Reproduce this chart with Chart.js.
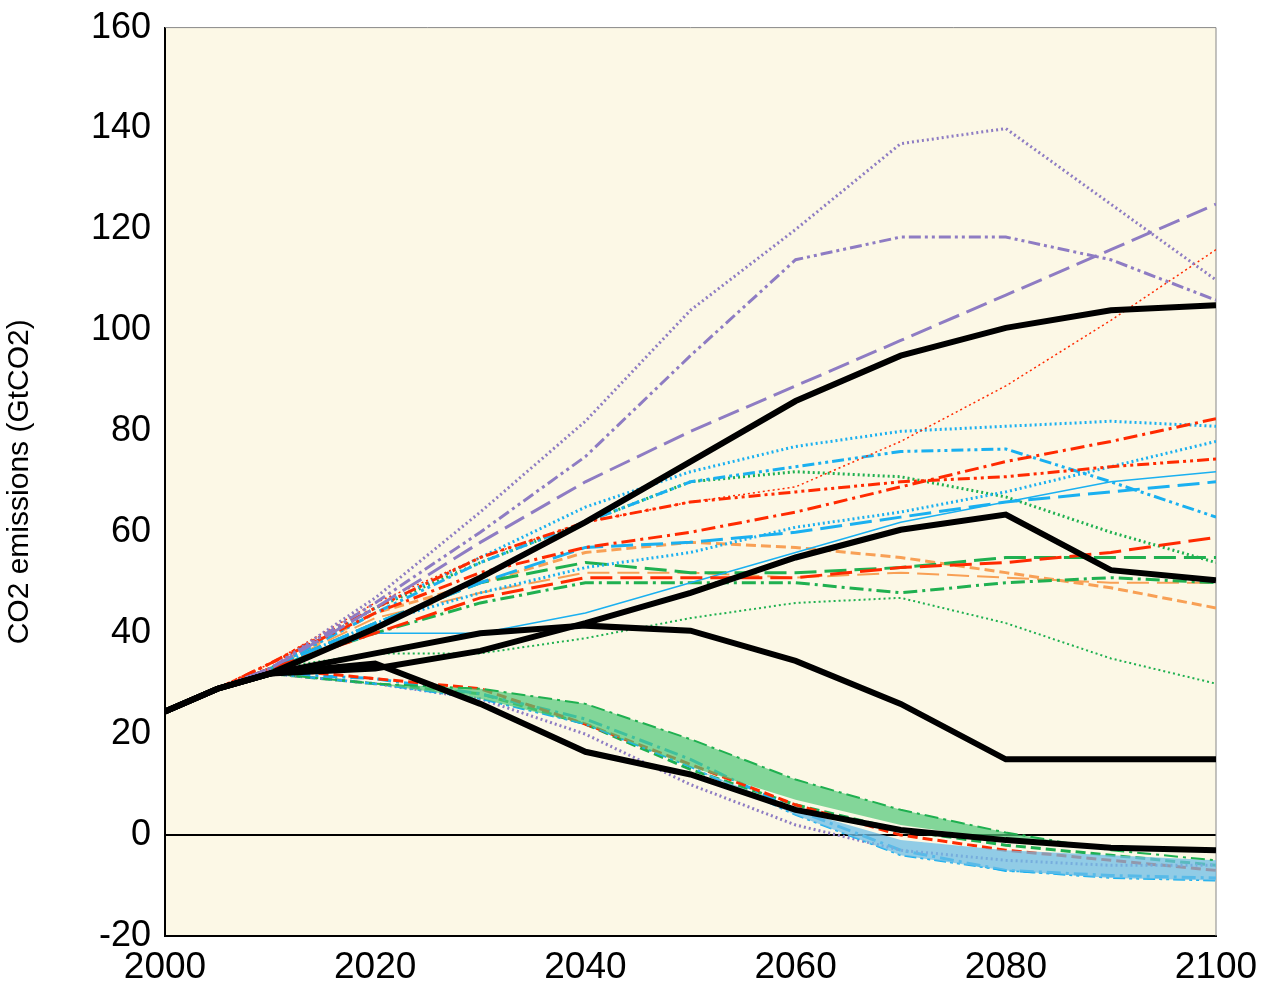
<!DOCTYPE html>
<html><head><meta charset="utf-8">
<script src="https://cdn.jsdelivr.net/npm/chart.js@4/dist/chart.umd.min.js"></script>
<style>body{margin:0;background:#fff}#wrap{width:1266px;height:1004px}</style>
</head><body><div id="wrap"><canvas id="c"></canvas></div>
<script>
// years and values
const years = [2005, 2010, 2020, 2030, 2040, 2050, 2060, 2070, 2080, 2090, 2100];
const yTicks = [-20, 0, 20, 40, 60, 80, 100, 120, 140, 160];
const xTicks = [2000, 2020, 2040, 2060, 2080, 2100];

// black scenarios (start at 2000)
const blackYears = [2000, 2005, 2010, 2020, 2030, 2040, 2050, 2060, 2070, 2080, 2090, 2100];
const blackA = [24.5, 29, 32, 41, 51, 62, 74, 86, 95, 100.5, 104, 105];
const blackB = [24.5, 29, 32, 33, 36.5, 42, 48, 55, 60.5, 63.5, 52.5, 50.5];
const blackC = [24.5, 29, 32, 36, 40, 41.5, 40.5, 34.5, 26, 15, 15, 15];
const blackD = [24.5, 29, 32, 34, 26, 16.5, 12, 5, 1, -1, -2.5, -3];

// coloured scenarios
const purple1 = [29, 33, 47, 64, 82, 104, 120, 137, 140, 125, 110];
const purple2 = [29, 33, 46, 60, 75, 95, 114, 118.5, 118.5, 114, 106];
const purple3 = [29, 33, 45, 58, 70, 80, 89, 98, 107, 116, 125];
const purple4 = [29, 32, 30, 27, 20, 10, 2, -3, -5, -6, -6];
const red1 = [29, 34, 46, 55, 62, 66, 69, 78, 89, 102, 116];
const red2 = [29, 34, 44, 52, 57, 60, 64, 69, 74, 78, 82.5];
const red3 = [29, 34, 45, 55, 62, 66, 68, 70, 71, 73, 74.5];
const red4 = [29, 33, 40, 47, 51, 51, 51, 53, 54, 56, 59];
const red5 = [29, 33, 31, 29, 22, 14, 6, 0, -3, -5, -7];
const blue1 = [29, 33, 45, 55, 65, 72, 77, 80, 81, 82, 81];
const blue2 = [29, 33, 44, 54, 62, 70, 73, 76, 76.5, 70, 63];
const blue3 = [29, 33, 42, 50, 57, 58, 60, 63, 66, 68, 70];
const blue4 = [29, 33, 42, 48, 53, 56, 61, 64, 68, 73, 78];
const blue5 = [29, 33, 40, 40, 44, 50, 56, 62, 66, 70, 72];
const blue6 = [29, 32, 31, 28, 23, 15, 5, -3, -7, -8, -8.5];
const green1 = [29, 33, 45, 54, 62, 70, 72, 71, 67, 60, 54];
const green2 = [29, 33, 42, 50, 54, 52, 52, 53, 55, 55, 55];
const green3 = [29, 33, 40, 46, 50, 50, 50, 48, 50, 51, 50];
const green4 = [29, 33, 36, 36, 39, 43, 46, 47, 42, 35, 30];
const green5 = [29, 32, 30, 28, 22, 13, 6, 1, -2, -4, -6];
const orange1 = [29, 33, 44, 50, 56, 58, 57, 55, 52, 49, 45];
const orange2 = [29, 33, 43, 48, 52, 52, 51, 52, 51, 50, 50];

// shaded bands
const greenBandTop = [29, 32, 30, 29, 26, 19, 11, 5, 0.5, -3, -5];
const greenBandLow = [29, 32, 30, 27, 22, 13.5, 7, 2, -1, -3, -5];
const blueBandTop = [29, 32, 30, 27, 22, 13.5, 5, -1, -3, -4, -5];
const blueBandLow = [29, 32, 30, 27, 22, 13.5, 4, -4, -7, -8.5, -9];

const PURPLE = '#8e7cc3', RED = '#ff2a00', BLUE = '#1ab0f0', GREEN = '#1fb050', ORANGE = '#f8a055';
const DOT = [2, 3], LDASH = [22, 8], DASHDOT = [14, 5, 3, 5], DDOT = [12, 4, 3, 4, 3, 4], DASH = [10, 5];

const pts = (xs, ys) => ys.map((v, i) => ({x: xs[i], y: v}));
function line(ys, color, dash, w) {
  return {data: pts(years, ys), borderColor: color, borderDash: dash, borderWidth: w || 3, pointRadius: 0, fill: false, tension: 0};
}
function black(ys) {
  return {data: pts(blackYears, ys), borderColor: '#000', borderWidth: 6, pointRadius: 0, fill: false, order: -1};
}
const datasets = [
  {data: pts(years, greenBandTop), borderColor: GREEN, borderWidth: 2, borderDash: DASHDOT, pointRadius: 0, fill: '+1', backgroundColor: 'rgba(80,200,120,0.7)'},
  {data: pts(years, greenBandLow), borderWidth: 0, pointRadius: 0, fill: false},
  {data: pts(years, blueBandTop), borderWidth: 0, pointRadius: 0, fill: '+1', backgroundColor: 'rgba(110,190,230,0.75)'},
  {data: pts(years, blueBandLow), borderColor: BLUE, borderWidth: 2, borderDash: DDOT, pointRadius: 0, fill: false},
  line(purple1, PURPLE, DOT), line(purple2, PURPLE, DDOT), line(purple3, PURPLE, LDASH), line(purple4, PURPLE, DOT),
  line(red1, RED, DOT, 1.5), line(red2, RED, DASHDOT), line(red3, RED, DDOT), line(red4, RED, LDASH), line(red5, RED, DASH),
  line(blue1, BLUE, DOT), line(blue2, BLUE, DDOT), line(blue3, BLUE, LDASH), line(blue4, BLUE, DOT), line(blue5, BLUE, [], 1.5), line(blue6, BLUE, DASHDOT),
  line(green1, GREEN, DOT), line(green2, GREEN, LDASH), line(green3, GREEN, DASHDOT), line(green4, GREEN, DOT, 2), line(green5, GREEN, DASH),
  line(orange1, ORANGE, DASH), line(orange2, ORANGE, LDASH, 2),
  black(blackA), black(blackB), black(blackC), black(blackD)
];

const plotBg = {
  id: 'plotBg',
  beforeDraw(ch) {
    const {ctx, chartArea: a} = ch;
    ctx.save(); ctx.fillStyle = '#fcf8e6';
    ctx.fillRect(a.left, a.top, a.right - a.left, a.bottom - a.top);
    ctx.restore();
  },
  beforeDatasetsDraw(ch) {
    const {ctx, chartArea: a, scales} = ch;
    const y0 = scales.y.getPixelForValue(0);
    ctx.save(); ctx.strokeStyle = '#000'; ctx.lineWidth = 2;
    ctx.beginPath(); ctx.moveTo(a.left, y0); ctx.lineTo(a.right, y0); ctx.stroke();
    ctx.strokeStyle = '#888'; ctx.lineWidth = 1;
    ctx.beginPath(); ctx.moveTo(a.left, a.top); ctx.lineTo(a.right, a.top); ctx.lineTo(a.right, a.bottom); ctx.stroke();
    ctx.restore();
  }
};

new Chart(document.getElementById('c'), {
  type: 'line',
  data: {datasets},
  options: {
    responsive: true, maintainAspectRatio: false, animation: false,
    layout: {padding: {top: 25, right: 50, bottom: 0, left: 0}},
    plugins: {legend: {display: false}, tooltip: {enabled: false}},
    scales: {
      x: {
        type: 'linear', min: 2000, max: 2100,
        afterBuildTicks: s => { s.ticks = xTicks.map(v => ({value: v})); },
        afterFit: s => { s.height = 68; },
        grid: {display: false, drawTicks: true},
        border: {color: '#000', width: 2},
        ticks: {color: '#000', font: {family: 'Liberation Sans', size: 37}, padding: 2, maxRotation: 0, callback: v => String(v)}
      },
      y: {
        min: -20, max: 160,
        afterBuildTicks: s => { s.ticks = yTicks.map(v => ({value: v})); },
        afterFit: s => { s.width = 165; },
        grid: {display: false, drawTicks: true, tickLength: 8},
        border: {color: '#000', width: 2},
        title: {display: true, text: 'CO2 emissions (GtCO2)', color: '#000', font: {family: 'Liberation Sans', size: 30}, padding: 2},
        ticks: {color: '#000', font: {family: 'Liberation Sans', size: 36}, padding: 6}
      }
    }
  },
  plugins: [plotBg]
});
</script>
</body></html>
